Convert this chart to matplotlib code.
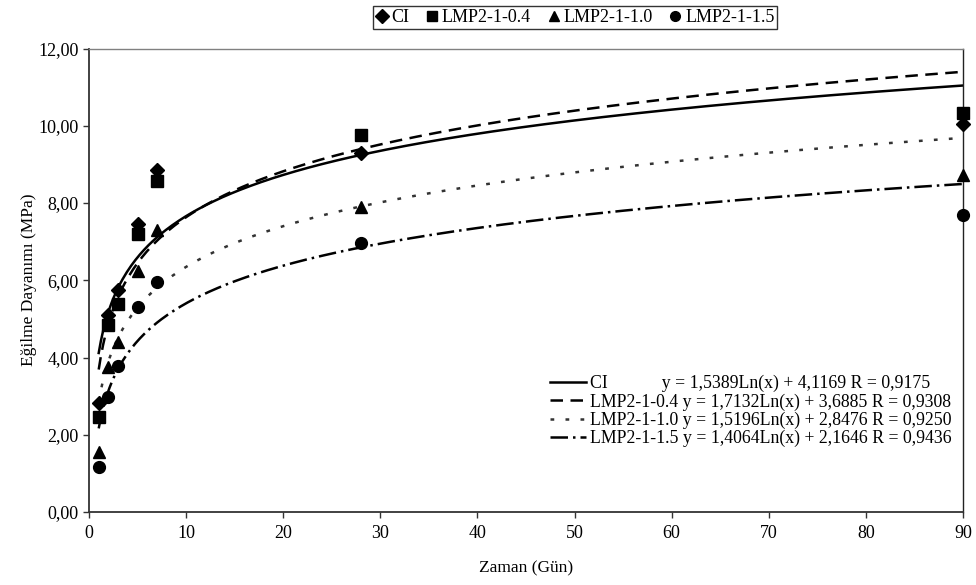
import numpy as np
import matplotlib
matplotlib.use("Agg")
import matplotlib.pyplot as plt

plt.rcParams['font.family'] = ['Liberation Serif', 'DejaVu Serif']

# ---- data ----
days = [1, 2, 3, 5, 7, 28, 90]
series_names = ["CI", "LMP2-1-0.4", "LMP2-1-1.0", "LMP2-1-1.5"]
ci = [2.82, 5.11, 5.75, 7.46, 8.85, 9.30, 10.05]
lmp04 = [2.47, 4.85, 5.38, 7.21, 8.56, 9.75, 10.32]
lmp10 = [1.56, 3.75, 4.40, 6.25, 7.31, 7.90, 8.73]
lmp15 = [1.17, 2.97, 3.77, 5.30, 5.95, 6.96, 7.70]
fit_a = [1.5389, 1.7132, 1.5196, 1.4064]
fit_b = [4.1169, 3.6885, 2.8476, 2.1646]
fit_r = [0.9175, 0.9308, 0.9250, 0.9436]
x_ticks = [0, 10, 20, 30, 40, 50, 60, 70, 80, 90]
y_ticks = [0, 2, 4, 6, 8, 10, 12]

series = [ci, lmp04, lmp10, lmp15]
markers = ['D', 's', '^', 'o']
msizes = [7.5, 8, 8.5, 8.5]
line_styles = ['-', (0, (5, 3)), (0, (1.5, 4.5)), (0, (7, 2, 1, 2))]
line_colors = ['black', 'black', '#333333', 'black']

fig = plt.figure(figsize=(9.76, 5.85), dpi=100)
ax = fig.add_axes([89/976, 1-512/585, (963-89)/976, (512-48.5)/585])

xf = np.linspace(1, 90, 400)
fit_handles = []
for a, b, ls, c in zip(fit_a, fit_b, line_styles, line_colors):
    h, = ax.plot(xf, a*np.log(xf) + b, color=c, lw=1.8, linestyle=ls, zorder=2)
    fit_handles.append(h)

pt_handles = []
for vals, m, ms, name in zip(series, markers, msizes, series_names):
    h, = ax.plot(days, vals, linestyle='none', marker=m, markersize=ms,
                 color='black', zorder=3, clip_on=False, label=name)
    pt_handles.append(h)

ax.set_xlim(0, 90)
ax.set_ylim(0, 12)
ax.set_xticks(x_ticks)
ax.set_yticks(y_ticks)
ax.set_yticklabels([f"{v:.2f}".replace('.', ',') for v in y_ticks])
ax.tick_params(axis='both', direction='out', length=4.5, width=1, labelsize=13, color='#333333')
ax.tick_params(axis='y', pad=3)
ax.tick_params(axis='x', pad=5)
for s in ['left', 'bottom']:
    ax.spines[s].set_color('#333333')
    ax.spines[s].set_linewidth(1.3)
ax.spines['top'].set_color('#808080')
ax.spines['right'].set_color('#222222')
ax.spines['top'].set_linewidth(1)
ax.spines['right'].set_linewidth(1)

ax.set_xlabel("Zaman (Gün)", fontsize=12.5, labelpad=13)
ax.set_ylabel("Eğilme Dayanımı (MPa)", fontsize=12.5, labelpad=1)

# top legend (markers)
leg1 = fig.legend(handles=pt_handles, labels=series_names, loc='center',
                  bbox_to_anchor=(575/976, 1-17.5/585), ncol=4, frameon=True,
                  fancybox=False, edgecolor='black', fontsize=13,
                  handlelength=0.7, handletextpad=0.2, columnspacing=0.9,
                  borderpad=0.15, borderaxespad=0)
leg1.get_frame().set_linewidth(1)
for h in leg1.legend_handles:
    h.set_markersize(7)

# bottom-right legend (fit lines with equations)
def fmt(v):
    return f"{v:.4f}".replace('.', ',')

pads = ["CI" + " " * 12, "LMP2-1-0.4 ", "LMP2-1-1.0 ", "LMP2-1-1.5 "]
fit_labels = [f"{p}y = {fmt(a)}Ln(x) + {fmt(b)} R = {fmt(r)}"
              for p, a, b, r in zip(pads, fit_a, fit_b, fit_r)]
leg2 = ax.legend(handles=fit_handles, labels=fit_labels, loc='upper left',
                 bbox_to_anchor=(550/976, 1-375/585), bbox_transform=fig.transFigure,
                 frameon=False, fontsize=12.8, handlelength=2.0, handletextpad=0.25,
                 labelspacing=0.06, borderpad=0, borderaxespad=0)

fig.savefig("out.png", dpi=100)
